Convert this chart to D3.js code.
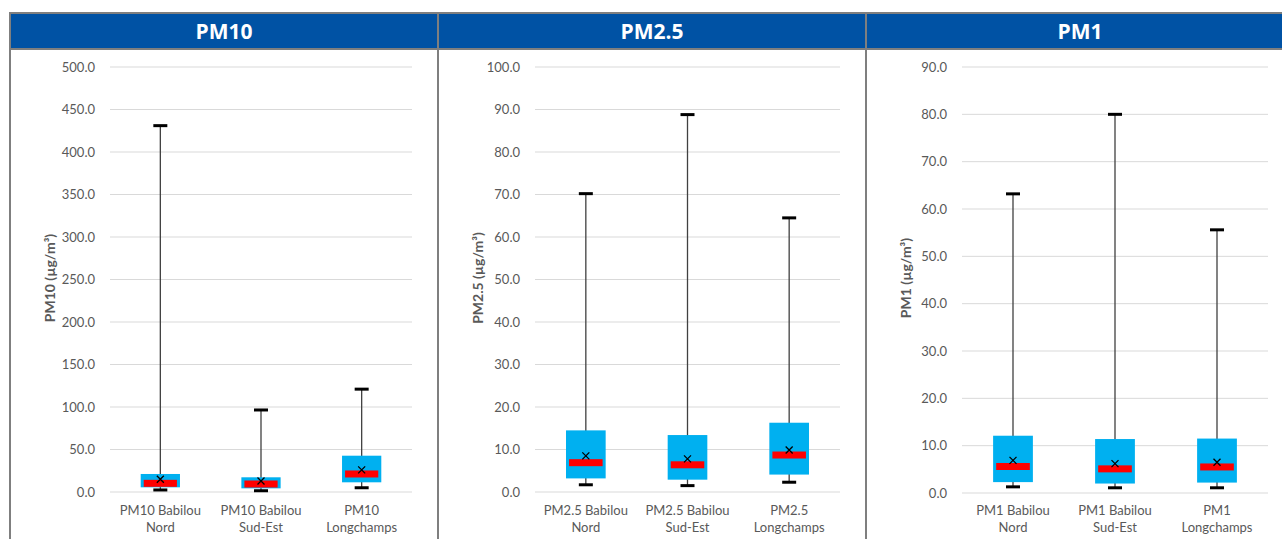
<!DOCTYPE html>
<html>
<head>
<meta charset="utf-8">
<script src="https://cdnjs.cloudflare.com/ajax/libs/d3/7.8.5/d3.min.js"></script>
<style>
  body { margin: 0; background: #fff; }
  svg { display: block; font-family: Lato, "Open Sans", sans-serif; }
</style>
</head>
<body>
<svg id="chart" width="1282" height="539"></svg>
<script>
// box plot stats (µg/m³)
const panels = ["PM10", "PM2.5", "PM1"];
const sites = ["Babilou Nord", "Babilou Sud-Est", "Longchamps"];
const yMax = [500, 100, 90];
const yStep = [50, 10, 10];

const mins    = [[2.4, 1.5, 5.0],   [1.7, 1.5, 2.3],   [1.3, 1.1, 1.1]];
const q1s     = [[5.5, 4.3, 11.4],  [3.2, 2.9, 4.1],   [2.3, 2.0, 2.2]];
const medians = [[10.2, 9.4, 21.2], [6.9, 6.4, 8.7],   [5.6, 5.1, 5.5]];
const q3s     = [[21.2, 17.3, 42.7],[14.5, 13.4, 16.3],[12.1, 11.4, 11.5]];
const maxs    = [[431, 96.5, 121],  [70.2, 88.8, 64.5],[63.2, 80.0, 55.6]];
const means   = [[15, 13, 26],      [8.5, 7.8, 9.9],   [6.9, 6.2, 6.5]];

const svg = d3.select("#chart");
const panelX = [10, 438, 866];
const plotLeft = [100, 97, 96];
const panelW = 428;
const headTop = 13, headH = 36;

panels.forEach((p, i) => {
    const g = svg.append("g").attr("transform", `translate(${panelX[i]},0)`);

    // header
    g.append("rect").attr("x", 0).attr("y", headTop).attr("width", panelW).attr("height", headH)
        .attr("fill", "#0052A4");
    g.append("text").attr("x", panelW / 2).attr("y", headTop + headH / 2 + 7.5)
        .attr("text-anchor", "middle").attr("fill", "#fff")
        .attr("font-family", "'Open Sans', sans-serif")
        .attr("font-weight", "bold").attr("font-size", 21).text(p);

    const x0 = plotLeft[i], x1 = 402;
    const y = d3.scaleLinear().domain([0, yMax[i]]).range([i == 2 ? 493 : 492, 67]);
    const x = d3.scaleBand().domain(sites).range([x0, x1]);

    // gridlines
    const ticks = d3.range(0, yMax[i] + 0.001, yStep[i]);
    g.append("g").selectAll("line").data(ticks).enter().append("line")
        .attr("x1", x0).attr("x2", x1)
        .attr("y1", d => y(d)).attr("y2", d => y(d))
        .attr("stroke", "#d9d9d9").attr("stroke-width", 1);

    const yAxis = g.append("g").attr("transform", `translate(${x0 - 12},0)`)
        .call(d3.axisLeft(y).tickValues(ticks).tickFormat(d3.format(".1f")).tickSize(0));
    yAxis.select(".domain").remove();
    yAxis.selectAll("text").attr("fill", "#595959").attr("font-size", 13)
        .attr("font-family", "Lato, sans-serif");

    // axis title
    g.append("text").attr("transform", `translate(45,278) rotate(-90)`)
        .attr("text-anchor", "middle").attr("fill", "#595959")
        .attr("font-weight", "bold").attr("font-size", 14).text(p + " (µg/m³)");

    // category labels
    sites.forEach(s => {
        const cx = x(s) + x.bandwidth() / 2;
        const words = s.split(" ");
        const line1 = words.length > 1 ? p + " " + words[0] : p;
        const line2 = words.length > 1 ? words.slice(1).join(" ") : words[0];
        const t = g.append("text").attr("text-anchor", "middle").attr("fill", "#595959")
            .attr("font-size", 13);
        t.append("tspan").attr("x", cx).attr("y", 515).text(line1);
        t.append("tspan").attr("x", cx).attr("y", 532).text(line2);
    });

    // boxes
    sites.forEach((s, k) => {
        const cx = x(s) + x.bandwidth() / 2;
        const bw = x.bandwidth() * 0.39;
        const rw = x.bandwidth() * 0.33;
        // whisker
        g.append("line").attr("x1", cx).attr("x2", cx)
            .attr("y1", y(maxs[i][k])).attr("y2", y(mins[i][k]))
            .attr("stroke", "#404040").attr("stroke-width", 1.3);
        g.append("rect").attr("x", cx - bw / 2).attr("y", y(q3s[i][k]))
            .attr("width", bw).attr("height", y(q1s[i][k]) - y(q3s[i][k]))
            .attr("fill", "#00B0F0");
        g.append("rect").attr("x", cx - rw / 2).attr("y", y(medians[i][k]) - 3.5)
            .attr("width", rw).attr("height", 7).attr("fill", "#FF0000");
        // caps
        [maxs[i][k], mins[i][k]].forEach(v => {
            g.append("line").attr("x1", cx - 7).attr("x2", cx + 7)
                .attr("y1", y(v)).attr("y2", y(v))
                .attr("stroke", "#000").attr("stroke-width", 3);
        });
        // mean marker
        const my = y(means[i][k]);
        g.append("path").attr("d", `M${cx - 3.5},${my - 3.5}L${cx + 3.5},${my + 3.5}M${cx - 3.5},${my + 3.5}L${cx + 3.5},${my - 3.5}`)
            .attr("stroke", "#000").attr("stroke-width", 1.3);
    });
});

// table borders
const border = svg.append("g").attr("stroke", "#7f7f7f").attr("stroke-width", 2);
border.append("line").attr("x1", 9).attr("x2", 1282).attr("y1", headTop).attr("y2", headTop);
border.append("line").attr("x1", 9).attr("x2", 1282).attr("y1", headTop + headH).attr("y2", headTop + headH);
panelX.forEach(px => {
    border.append("line").attr("x1", px).attr("x2", px).attr("y1", headTop).attr("y2", 539);
});
</script>
</body>
</html>
